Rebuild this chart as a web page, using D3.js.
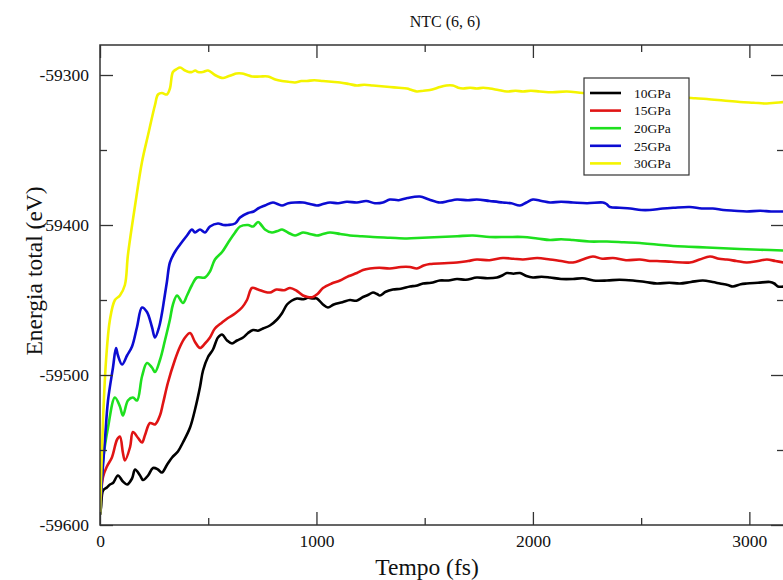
<!DOCTYPE html>
<html>
<head>
<meta charset="utf-8">
<script src="https://cdn.jsdelivr.net/npm/d3@7"></script>
<style>
  html, body { margin: 0; padding: 0; background: #fff; }
  svg { display: block; }
  text { font-family: "Liberation Serif", "Times New Roman", serif; fill: #111; }
</style>
</head>
<body>
<svg id="chart" width="783" height="580"></svg>
<script>
// ---- data: [time (fs), total energy (eV)] ----
const seriesNames = ["10GPa", "15GPa", "20GPa", "25GPa", "30GPa"];
const seriesColors = ["#000000", "#e01414", "#1ee01e", "#0c0cd2", "#f4f400"];

const p10 = [[0,-59593],[5,-59588],[14,-59577],[32,-59575],[46,-59573],[60,-59572],[83,-59567],[106,-59571],[125,-59573],[148,-59569],[162,-59563],[185,-59567],[199,-59570],[222,-59567],[245,-59562],[268,-59563],[286,-59565],[309,-59560],[333,-59555],[360,-59551],[383,-59545],[416,-59535],[439,-59523],[462,-59508],[476,-59497],[499,-59488],[522,-59483],[545,-59475],[564,-59473],[587,-59477],[610,-59479],[633,-59477],[661,-59475],[684,-59472],[707,-59470],[730,-59470.5],[753,-59469],[785,-59467],[818,-59463],[840,-59459],[864,-59453],[885,-59450.5],[910,-59449],[940,-59449.5],[960,-59448.5],[984,-59449],[1002,-59449],[1030,-59453],[1053,-59455],[1080,-59453],[1120,-59451.5],[1155,-59450],[1185,-59450.5],[1215,-59448],[1240,-59446.5],[1261,-59445],[1280,-59446],[1293,-59447],[1320,-59444.5],[1353,-59443],[1390,-59442.5],[1432,-59441],[1460,-59440.5],[1492,-59439],[1530,-59438.5],[1570,-59437],[1610,-59437],[1649,-59436],[1690,-59436.5],[1741,-59435],[1790,-59435.5],[1834,-59435],[1860,-59433.5],[1880,-59432],[1910,-59432.5],[1940,-59432],[1970,-59434],[2000,-59435],[2040,-59434.5],[2079,-59435],[2130,-59436],[2185,-59436],[2230,-59435.5],[2280,-59437],[2342,-59437],[2400,-59436.5],[2462,-59437],[2520,-59438],[2573,-59439],[2630,-59438.5],[2679,-59439],[2730,-59438],[2785,-59437],[2830,-59438],[2864,-59439],[2900,-59440],[2924,-59441],[2960,-59439.5],[2988,-59439],[3040,-59438.5],[3095,-59438],[3115,-59439],[3132,-59441],[3160,-59441]];

const p15 = [[0,-59593],[14,-59568],[32,-59561],[55,-59555],[79,-59543],[92,-59541],[106,-59552],[115,-59557],[139,-59548],[152,-59538],[176,-59542],[194,-59545],[208,-59540],[231,-59532],[254,-59533],[277,-59527],[291,-59519],[314,-59505],[346,-59490],[370,-59481],[393,-59475],[416,-59472],[439,-59478],[462,-59482],[485,-59479],[508,-59475],[531,-59469],[564,-59465],[591,-59462],[624,-59459],[656,-59455],[679,-59450],[702,-59442],[730,-59443],[760,-59444.5],[785,-59445],[815,-59443],[850,-59443.5],[878,-59442],[910,-59444],[938,-59447],[960,-59448],[984,-59448],[1005,-59446],[1030,-59442],[1070,-59439],[1109,-59437],[1150,-59434],[1187,-59432],[1215,-59430],[1247,-59429],[1290,-59428.5],[1339,-59429],[1390,-59428],[1432,-59428],[1464,-59429],[1495,-59427],[1524,-59426],[1590,-59425.5],[1649,-59425],[1700,-59424],[1741,-59423],[1800,-59423.5],[1861,-59422],[1910,-59422.5],[1954,-59423],[2020,-59422],[2079,-59423],[2130,-59424],[2185,-59425],[2230,-59423],[2277,-59421],[2320,-59422.5],[2370,-59422],[2430,-59423.5],[2494,-59423],[2540,-59424],[2573,-59424],[2640,-59424.5],[2725,-59425],[2770,-59423],[2818,-59421],[2860,-59422.5],[2896,-59423],[2940,-59424],[2988,-59425],[3040,-59424],[3081,-59423],[3120,-59424],[3160,-59425]];

const p20 = [[0,-59593],[14,-59557],[37,-59535],[69,-59515],[92,-59521],[106,-59527],[129,-59517],[152,-59515],[171,-59517],[194,-59501],[217,-59492],[240,-59495],[254,-59498],[277,-59490],[300,-59477],[323,-59463],[337,-59453],[356,-59447],[383,-59452],[402,-59447],[425,-59440],[448,-59435],[485,-59435],[508,-59431],[531,-59423],[564,-59418],[591,-59412],[624,-59405],[647,-59401],[684,-59400],[707,-59401],[730,-59398],[745,-59400],[762,-59403],[794,-59405],[820,-59404],[841,-59403],[868,-59405],[901,-59407],[920,-59406],[938,-59405],[970,-59406],[1002,-59407],[1030,-59406],[1062,-59405],[1110,-59406],[1155,-59407],[1210,-59407.5],[1261,-59408],[1340,-59408.5],[1418,-59409],[1490,-59408.5],[1570,-59408],[1650,-59407.5],[1723,-59407],[1800,-59408],[1880,-59408],[1954,-59408],[2020,-59409],[2079,-59410],[2130,-59409.5],[2185,-59410],[2260,-59411],[2342,-59411],[2420,-59411.5],[2494,-59412],[2570,-59413],[2647,-59414],[2720,-59414.5],[2804,-59415],[2880,-59415.5],[2956,-59416],[3050,-59416.5],[3160,-59417]];

const p25 = [[0,-59593],[9,-59570],[23,-59543],[37,-59517],[60,-59495],[74,-59482],[83,-59487],[102,-59493],[125,-59487],[148,-59481],[171,-59468],[194,-59455],[217,-59458],[240,-59468],[254,-59475],[273,-59468],[286,-59459],[296,-59450],[309,-59438],[323,-59425],[346,-59418],[370,-59413],[402,-59407],[425,-59403],[439,-59405],[462,-59403],[485,-59405],[508,-59401],[545,-59399],[570,-59400],[591,-59400],[624,-59399],[647,-59395],[684,-59392],[710,-59391],[730,-59389],[762,-59387],[799,-59385],[820,-59386],[841,-59387],[870,-59385.5],[901,-59385],[938,-59385],[970,-59386],[1002,-59387],[1030,-59386],[1062,-59385],[1100,-59385.5],[1140,-59384.5],[1187,-59385],[1230,-59384],[1270,-59385.5],[1307,-59385],[1339,-59383],[1380,-59383.5],[1420,-59382],[1478,-59381],[1520,-59383],[1570,-59385],[1610,-59384],[1649,-59383],[1700,-59383.5],[1741,-59383],[1800,-59384],[1861,-59385],[1900,-59385.5],[1940,-59387],[1970,-59385],[2000,-59383],[2040,-59384],[2079,-59385],[2130,-59384.5],[2185,-59385],[2250,-59385.5],[2323,-59385],[2340,-59386],[2356,-59388],[2400,-59388.5],[2450,-59389],[2500,-59390],[2540,-59390],[2600,-59389],[2650,-59388.5],[2725,-59388],[2780,-59389],[2831,-59389],[2880,-59390],[2930,-59390.5],[2988,-59391],[3050,-59390.5],[3100,-59391],[3160,-59391]];

const p30 = [[0,-59593],[14,-59530],[28,-59490],[46,-59463],[69,-59450],[92,-59447],[115,-59440],[129,-59420],[162,-59387],[194,-59358],[222,-59340],[254,-59320],[268,-59313],[286,-59312],[309,-59313],[323,-59309],[337,-59298],[355,-59296],[370,-59295],[393,-59297],[410,-59298],[425,-59298],[440,-59297],[453,-59298],[475,-59298],[499,-59297],[531,-59300],[568,-59302],[590,-59301],[610,-59300],[630,-59299],[656,-59299],[680,-59300],[702,-59301],[740,-59301],[776,-59301],[810,-59303],[841,-59304],[870,-59304.5],[901,-59305],[930,-59304],[956,-59304],[990,-59303.5],[1030,-59304],[1070,-59304.5],[1109,-59305],[1150,-59306],[1187,-59307],[1220,-59306.5],[1261,-59307],[1300,-59307.5],[1339,-59308],[1380,-59308.5],[1418,-59309],[1440,-59310],[1464,-59311],[1495,-59310.5],[1524,-59310],[1550,-59309],[1570,-59308],[1600,-59307],[1630,-59307],[1655,-59308.5],[1677,-59309],[1710,-59308.5],[1741,-59309],[1770,-59308.5],[1801,-59309],[1840,-59310],[1880,-59311],[1920,-59310.5],[1954,-59311],[1990,-59310.5],[2032,-59311],[2090,-59311.5],[2157,-59311],[2231,-59312],[2320,-59312.5],[2402,-59313],[2500,-59314],[2587,-59315],[2640,-59315.5],[2693,-59315],[2750,-59315.5],[2804,-59316],[2880,-59317],[2956,-59318],[3020,-59318.5],[3081,-59319],[3120,-59318.5],[3160,-59318]];

const seriesData = [p10, p15, p20, p25, p30];

const xMajorTicks = [0, 1000, 2000, 3000];
const xMinorTicks = [500, 1500, 2500];
const yMajorTicks = [-59600, -59500, -59400, -59300];
const yMinorTicks = [-59550, -59450, -59350];

const titleText = "NTC (6, 6)";
const xTitle = "Tempo (fs)";
const yTitle = "Energia total (eV)";

// ---- layout ----
const L = 100, R = 784, T = 45, B = 525;
const FONT = '"Liberation Serif", "Times New Roman", serif';
const svg = d3.select("#chart");

const x = d3.scaleLinear().domain([0, 3160]).range([L, R]);
const y = d3.scaleLinear().domain([-59600, -59280]).range([B, T]);

svg.append("defs").append("clipPath").attr("id", "plotclip")
  .append("rect").attr("x", L).attr("y", T).attr("width", R - L).attr("height", B - T);

const lineGen = d3.line().x(d => x(d[0])).y(d => y(d[1])).curve(d3.curveCatmullRom.alpha(0.5));
const g = svg.append("g").attr("clip-path", "url(#plotclip)");
seriesNames.forEach((name, i) => {
  g.append("path").datum(seriesData[i])
    .attr("d", lineGen)
    .attr("fill", "none")
    .attr("stroke", seriesColors[i])
    .attr("stroke-width", 2.6)
    .attr("stroke-linejoin", "round");
});

// axes
const axisColor = "#333";
const majorLen = 13, minorLen = 7;
const fmt = d => String(d);
function styleAxis(sel) {
  sel.attr("font-family", FONT);
  sel.selectAll(".domain").remove();
  sel.selectAll(".tick line").attr("stroke", axisColor).attr("stroke-width", 1.3);
  sel.selectAll(".tick text").style("font-family", FONT).attr("fill", "#111");
}
const xb = svg.append("g").attr("transform", `translate(0,${B})`)
  .call(d3.axisBottom(x).tickValues(xMajorTicks).tickSize(-majorLen).tickPadding(0).tickFormat(fmt));
styleAxis(xb);
xb.selectAll(".tick text").attr("y", 22).attr("dy", 0).style("font-size", "17.5px");
svg.append("g").attr("transform", `translate(0,${B})`)
  .call(d3.axisBottom(x).tickValues(xMinorTicks).tickSize(-minorLen).tickFormat(""))
  .call(styleAxis);
svg.append("g").attr("transform", `translate(0,${T})`)
  .call(d3.axisTop(x).tickValues(xMajorTicks).tickSize(-majorLen).tickFormat("")).call(styleAxis);
svg.append("g").attr("transform", `translate(0,${T})`)
  .call(d3.axisTop(x).tickValues(xMinorTicks).tickSize(-minorLen).tickFormat("")).call(styleAxis);
const yl = svg.append("g").attr("transform", `translate(${L},0)`)
  .call(d3.axisLeft(y).tickValues(yMajorTicks).tickSize(-majorLen).tickPadding(0).tickFormat(fmt));
styleAxis(yl);
yl.selectAll(".tick text").attr("x", -11).attr("dy", "0.33em").style("font-size", "17.5px");
svg.append("g").attr("transform", `translate(${L},0)`)
  .call(d3.axisLeft(y).tickValues(yMinorTicks).tickSize(-minorLen).tickFormat("")).call(styleAxis);
svg.append("g").attr("transform", `translate(${R},0)`)
  .call(d3.axisRight(y).tickValues(yMajorTicks).tickSize(-majorLen).tickFormat("")).call(styleAxis);
svg.append("g").attr("transform", `translate(${R},0)`)
  .call(d3.axisRight(y).tickValues(yMinorTicks).tickSize(-minorLen).tickFormat("")).call(styleAxis);

svg.append("rect").attr("x", L).attr("y", T).attr("width", R - L).attr("height", B - T)
  .attr("fill", "none").attr("stroke", axisColor).attr("stroke-width", 1.5);

// legend
const lg = svg.append("g").attr("transform", "translate(584,78)");
lg.append("rect").attr("x", 0).attr("y", 0).attr("width", 105).attr("height", 97)
  .attr("fill", "#fff").attr("stroke", "#333").attr("stroke-width", 1.2);
seriesNames.forEach((name, i) => {
  const yy = 15 + i * 17.6;
  lg.append("line").attr("x1", 6).attr("x2", 37).attr("y1", yy).attr("y2", yy)
    .attr("stroke", seriesColors[i]).attr("stroke-width", 2.6);
  lg.append("text").attr("x", 50).attr("y", yy).attr("dy", "0.35em")
    .style("font-size", "13.5px").text(name);
});

// titles
svg.append("text").attr("x", 445).attr("y", 27).attr("text-anchor", "middle")
  .style("font-size", "16px").text(titleText);
svg.append("text").attr("x", 427).attr("y", 575).attr("text-anchor", "middle")
  .style("font-size", "23.5px").text(xTitle);
svg.append("text").attr("transform", "translate(42,271) rotate(-90)").attr("text-anchor", "middle")
  .style("font-size", "23.5px").text(yTitle);
</script>
</body>
</html>
